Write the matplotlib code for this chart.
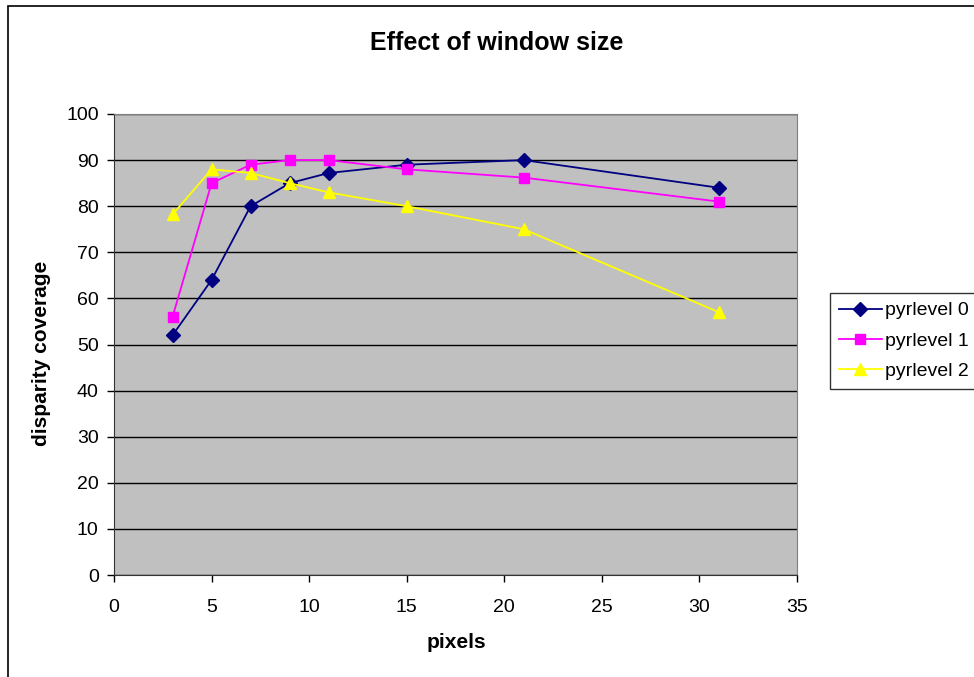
import matplotlib
matplotlib.use("Agg")
import matplotlib.pyplot as plt
from matplotlib.patches import Rectangle

plt.rcParams['font.family'] = ['Liberation Sans', 'DejaVu Sans']

window = [3, 5, 7, 9, 11, 15, 21, 31]
pyr0 = [52, 64, 80, 85, 87.2, 89, 90, 84]
pyr1 = [56, 85, 89, 90, 90, 88, 86.2, 81]
pyr2 = [78.2, 88, 87.2, 85, 83, 80, 75, 57]
labels = ["pyrlevel 0", "pyrlevel 1", "pyrlevel 2"]
xticks = [0, 5, 10, 15, 20, 25, 30, 35]
yticks = list(range(0, 101, 10))

W, H = 974, 677
fig = plt.figure(figsize=(W / 100, H / 100), dpi=100)
fig.patches.append(Rectangle((8 / W, -0.1), 1.2, 1 - 6 / H + 0.1,
                             transform=fig.transFigure, fill=False,
                             edgecolor='black', linewidth=1.2))
ax = fig.add_axes([114 / W, 1 - 575 / H, (797 - 114) / W, (575 - 114) / H])
ax.set_facecolor('#C0C0C0')

l0, = ax.plot(window, pyr0, color='#000080', marker='D', markersize=7, linewidth=1.3, clip_on=False)
l1, = ax.plot(window, pyr1, color='#FF00FF', marker='s', markersize=7.5, linewidth=1.3, clip_on=False)
l2, = ax.plot(window, pyr2, color='#FFFF00', marker='^', markersize=8.5, linewidth=1.3, clip_on=False)

ax.set_xlim(0, 35)
ax.set_ylim(0, 100)
ax.set_xticks(xticks)
ax.set_yticks(yticks)
ax.yaxis.grid(True, color='black', linewidth=1)
ax.set_axisbelow(True)
ax.tick_params(axis='both', direction='out', length=5, width=1, labelsize=14, colors='black')
ax.tick_params(axis='x', pad=12)
ax.tick_params(axis='y', pad=6)
for s in ['left', 'bottom']:
    ax.spines[s].set_color('#333333')
for s in ['top', 'right']:
    ax.spines[s].set_color('#808080')

fig.text(456 / W, 1 - 643 / H, 'pixels', fontsize=15, fontweight='bold',
         ha='center', va='center')
fig.text(42 / W, 1 - 353 / H, 'disparity coverage', fontsize=15, fontweight='bold',
         ha='center', va='center', rotation=90)
fig.text(497 / W, 1 - 43 / H, 'Effect of window size', fontsize=18,
         fontweight='bold', ha='center', va='center')

leg = fig.legend([l0, l1, l2], labels, loc='upper left',
                 bbox_to_anchor=(830 / W, 1 - 293 / H), fontsize=14,
                 frameon=True, fancybox=False, edgecolor='black',
                 handlelength=2.2, borderpad=0.45, labelspacing=0.65,
                 handletextpad=0.2, borderaxespad=0)
leg.get_frame().set_linewidth(1)

fig.savefig('out.png', dpi=100)
